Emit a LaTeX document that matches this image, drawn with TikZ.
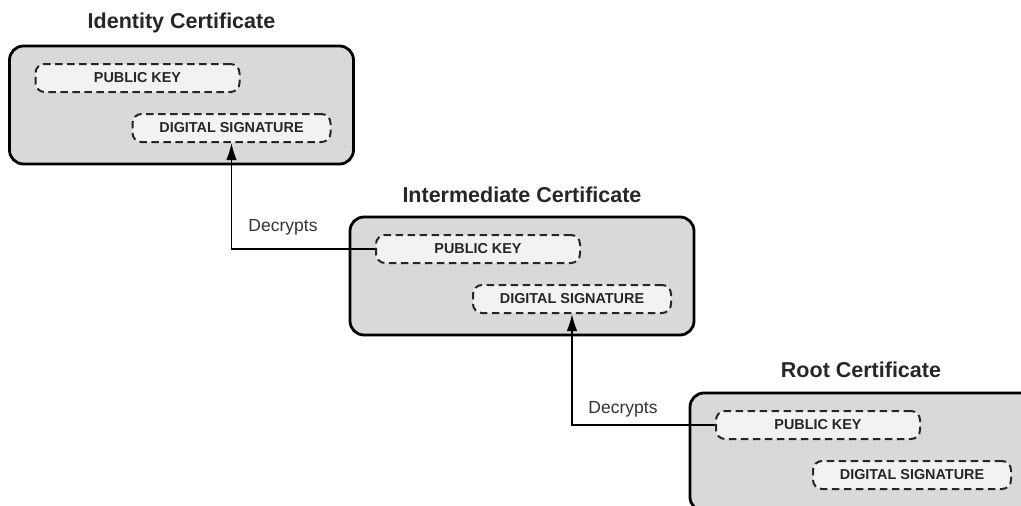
\documentclass[tikz,border=0pt]{standalone}
\usepackage{fontspec}
\setmainfont{Liberation Sans}
\usetikzlibrary{arrows.meta}
\definecolor{certfill}{HTML}{D9D9D9}
\definecolor{fieldfill}{HTML}{F2F2F2}
\definecolor{dashcol}{HTML}{262626}
\tikzset{
  cert/.style={draw=black, line width=2.8pt, fill=certfill, rounded corners=14pt,
    minimum width=344pt, minimum height=118pt, inner sep=0pt},
  field/.style={draw=dashcol, line width=2pt, dash pattern=on 7.5pt off 4.5pt, fill=fieldfill,
    rounded corners=9pt, minimum height=28pt, inner sep=0pt,
    font=\fontsize{14.4}{16}\selectfont\bfseries, text=black!85},
  pkfield/.style={field, minimum width=204pt},
  dsfield/.style={field, minimum width=198pt},
  title/.style={font=\fontsize{21.5}{24}\selectfont\bfseries, text=black!85},
  lbl/.style={font=\fontsize{17.5}{20}\selectfont, text=black!80},
  conn/.style={line width=1.4pt, -{Latex[length=17pt,width=10.5pt]}}
}
\begin{document}
\begin{tikzpicture}[x=1pt,y=-1pt]
\useasboundingbox (0,0) rectangle (1021,506);
\clip (0,0) rectangle (1021,506);
% Identity
\node[cert] (idc) at (181.5,105) {};
\node[title] (idt) at (181.5,23) {Identity Certificate};
\node[pkfield] (idpk) at (137.5,78) {PUBLIC KEY};
\node[dsfield] (idds) at (231.5,128) {DIGITAL SIGNATURE};
% Intermediate
\node[cert] (imc) at (522,276) {};
\node[title] (imt) at (522,195) {Intermediate Certificate};
\node[pkfield] (impk) at (478,249) {PUBLIC KEY};
\node[dsfield] (imds) at (572,299) {DIGITAL SIGNATURE};
% Root
\node[cert] (rtc) at (862,452) {};
\node[title] (rtt) at (861,370) {Root Certificate};
\node[pkfield] (rtpk) at (818,425) {PUBLIC KEY};
\node[dsfield] (rtds) at (912,475) {DIGITAL SIGNATURE};
% connectors
\draw[conn] (impk.west) -| (idds.south);
\node[lbl] (d1) at (283,227) {Decrypts};
\draw[conn] (rtpk.west) -| (imds.south);
\node[lbl] (d2) at (623,409) {Decrypts};
\end{tikzpicture}
\end{document}
